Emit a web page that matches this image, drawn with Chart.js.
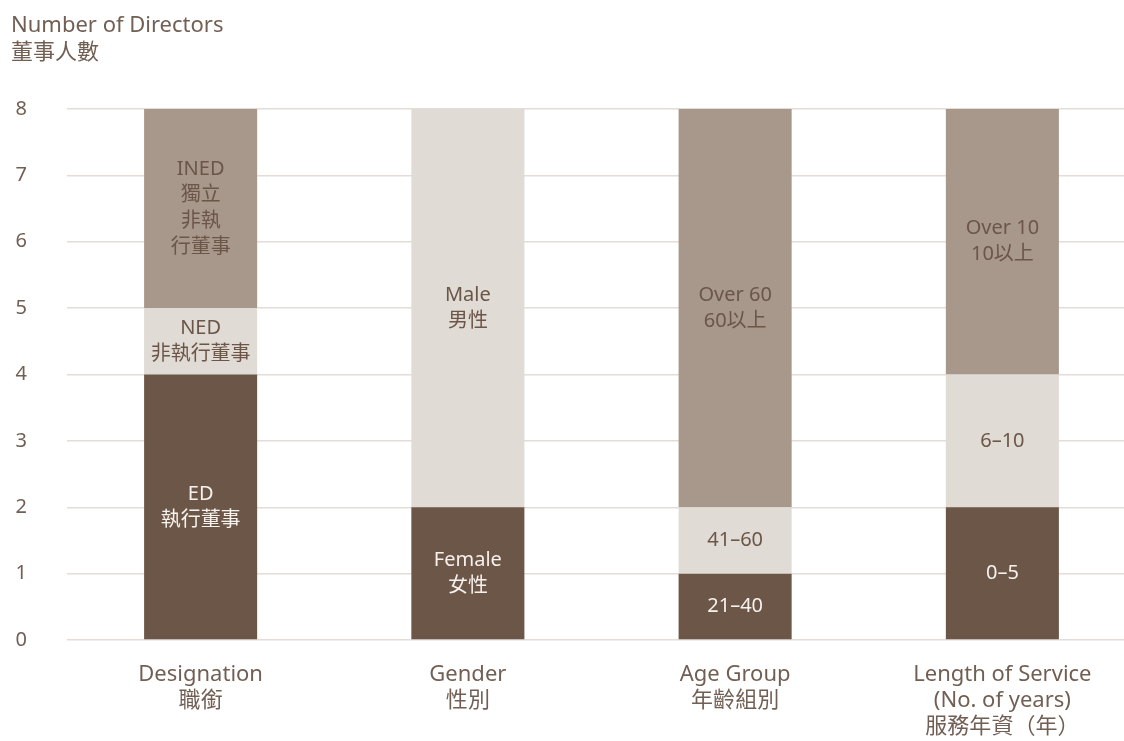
<!DOCTYPE html>
<html>
<head>
<meta charset="utf-8">
<script src="https://cdn.jsdelivr.net/npm/chart.js@4"></script>
<style>
html, body { margin: 0; padding: 0; background: #fff; overflow: hidden; }
#wrap { width: 1136px; height: 741px; }
</style>
</head>
<body>
<div id="wrap"><canvas id="chart" width="1136" height="741"></canvas></div>
<script>
const categories = [
    ['Designation', '職銜'],
    ['Gender', '性別'],
    ['Age Group', '年齡組別'],
    ['Length of Service', '(No. of years)', '服務年資（年）']
];
const bottomValues = [4, 2, 1, 2];
const middleValues = [1, 6, 1, 2];
const topValues = [3, 0, 6, 4];

const bottomLabels = [['ED', '執行董事'], ['Female', '女性'], ['21–40'], ['0–5']];
const middleLabels = [['NED', '非執行董事'], ['Male', '男性'], ['41–60'], ['6–10']];
const topLabels = [['INED', '獨立', '非執', '行董事'], [], ['Over 60', '60以上'], ['Over 10', '10以上']];

const yTicks = [0, 1, 2, 3, 4, 5, 6, 7, 8];
const titleLines = ['Number of Directors', '董事人數'];

const FONT = '"Noto Sans", "Noto Sans CJK TC", sans-serif';
const textColor = '#725f54';

// draws the text inside every bar segment
const segmentLabels = {
    id: 'segmentLabels',
    afterDatasetsDraw(chart) {
        const ctx = chart.ctx;
        ctx.save();
        ctx.font = '20px ' + FONT;
        ctx.textAlign = 'center';
        ctx.textBaseline = 'middle';
        chart.data.datasets.forEach((ds, di) => {
            const meta = chart.getDatasetMeta(di);
            meta.data.forEach((bar, i) => {
                const lines = ds.segmentText[i];
                if (!lines || !lines.length) return;
                const mid = (bar.y + bar.base) / 2;
                const lh = 26;
                ctx.fillStyle = ds.textColor;
                lines.forEach((t, k) => {
                    ctx.fillText(t, bar.x, mid + (k - (lines.length - 1) / 2) * lh);
                });
            });
        });
        ctx.restore();
    }
};

const titlePlugin = {
    id: 'topTitle',
    afterDraw(chart) {
        const ctx = chart.ctx;
        ctx.save();
        ctx.font = '22px ' + FONT;
        ctx.fillStyle = textColor;
        ctx.textAlign = 'left';
        ctx.textBaseline = 'middle';
        titleLines.forEach((t, k) => ctx.fillText(t, 11, 26 + k * 27));
        ctx.restore();
    }
};

const chart = new Chart(document.getElementById('chart'), {
    type: 'bar',
    data: {
        labels: categories,
        datasets: [
            { data: bottomValues, backgroundColor: '#6b5648', segmentText: bottomLabels, textColor: '#f6f1ec' },
            { data: middleValues, backgroundColor: '#e0dbd5', segmentText: middleLabels, textColor: '#6b5648' },
            { data: topValues, backgroundColor: '#a8978b', segmentText: topLabels, textColor: '#6b5648' }
        ]
    },
    options: {
        responsive: false,
        animation: false,
        layout: { padding: { top: 109, left: 0, right: 0, bottom: 0 } },
        datasets: { bar: { categoryPercentage: 1, barPercentage: 0.423 } },
        scales: {
            x: {
                stacked: true,
                grid: { display: false },
                border: { display: false },
                ticks: { color: textColor, font: { family: FONT, size: 22, lineHeight: '26px' }, padding: 14, maxRotation: 0 },
                afterFit(scale) { scale.height = 101; }
            },
            y: {
                stacked: true,
                min: 0,
                max: 8,
                afterBuildTicks(scale) { scale.ticks = yTicks.map(v => ({ value: v })); },
                grid: { color: '#e3dcd7', lineWidth: 1.5, drawTicks: false },
                border: { display: false },
                ticks: { color: textColor, font: { family: FONT, size: 20 }, padding: 40 },
                afterFit(scale) { scale.width = 67; }
            }
        },
        plugins: {
            legend: { display: false },
            tooltip: { enabled: false }
        }
    },
    plugins: [segmentLabels, titlePlugin]
});
</script>
</body>
</html>
